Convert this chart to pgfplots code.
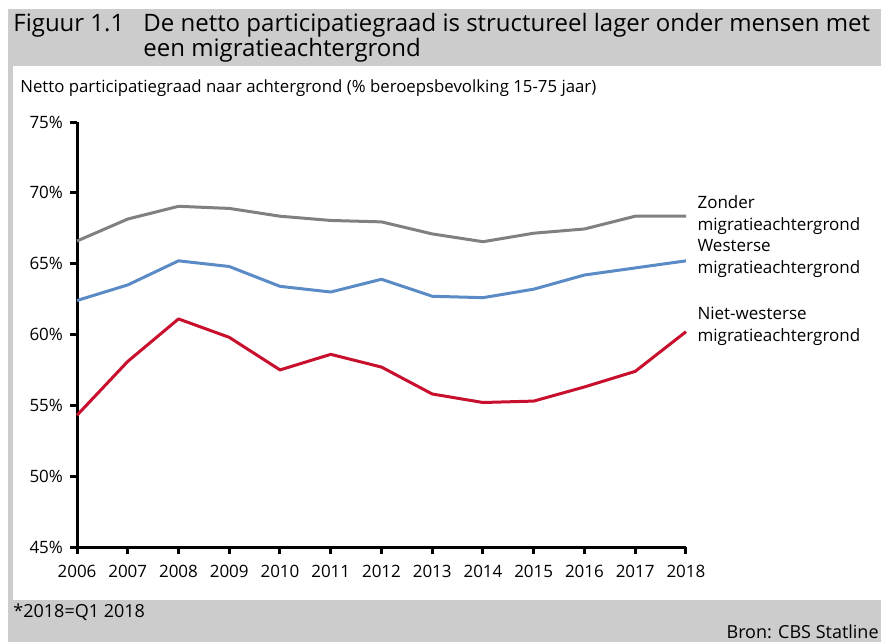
\documentclass[border=0pt]{standalone}
\usepackage{pgfplots}
\pgfplotsset{compat=1.18}
\usepackage{fontspec}
\setmainfont{Open Sans}

\definecolor{zonder}{HTML}{808080}
\definecolor{westers}{HTML}{5B8BC6}
\definecolor{nietwesters}{HTML}{C8102E}
\definecolor{band}{HTML}{CCCCCC}

\begin{document}
\begin{tikzpicture}
% frame and texts, in pixels of the reference (1px = 0.5pt)
\begin{scope}[x=0.5pt,y=-0.5pt]
  \fill[white] (0,0) rectangle (881,642);
  \fill[band] (8,9) rectangle (881,642);
  \fill[white] (13,66) rectangle (881,600);
  \node[anchor=base west, inner sep=0, font=\fontsize{12}{14}\selectfont]
    at (13,32) {Figuur 1.1};
  \node[anchor=base west, inner sep=0, font=\fontsize{12}{14}\selectfont]
    at (143,32) {De netto participatiegraad is structureel lager onder mensen met};
  \node[anchor=base west, inner sep=0, font=\fontsize{12}{14}\selectfont]
    at (143,57) {een migratieachtergrond};
  \node[anchor=base west, inner sep=0, font=\fontsize{8.4}{10}\selectfont]
    at (20,92) {Netto participatiegraad naar achtergrond (\% beroepsbevolking 15-75 jaar)};
  \node[anchor=base west, inner sep=0, font=\fontsize{9}{10}\selectfont]
    at (13,617) {*2018=Q1 2018};
  \node[anchor=base east, inner sep=0, font=\fontsize{9}{10}\selectfont]
    at (879,638) {Bron: CBS Statline};
\end{scope}

\begin{axis}[
  at={(38.5pt,-273.5pt)}, anchor=south west,
  scale only axis, width=304.5pt, height=212.5pt,
  xmin=2006, xmax=2018, ymin=45, ymax=75,
  enlargelimits=false,
  xtick={2006,2007,...,2018},
  ytick={45,50,...,75},
  axis lines=left,
  axis line style={-, line width=1.5pt},
  tick style={line width=1.5pt, black},
  tick align=outside,
  major tick length=3.5pt,
  xticklabel style={/pgf/number format/1000 sep={}, yshift=-2pt},
  yticklabel={\pgfmathprintnumber{\tick}\%},
  /pgf/number format/assume math mode=true,
  tick label style={font=\fontsize{8.5}{10}\selectfont},
  clip=false,
  every axis plot/.append style={line width=1.5pt, line join=round, mark=none},
]
\addplot[zonder] coordinates {
  (2006,66.6)(2007,68.15)(2008,69.05)(2009,68.9)(2010,68.35)(2011,68.05)
  (2012,67.95)(2013,67.1)(2014,66.55)(2015,67.15)(2016,67.45)(2017,68.35)
  (2018,68.35)};
\addplot[westers] coordinates {
  (2006,62.4)(2007,63.5)(2008,65.2)(2009,64.8)(2010,63.4)(2011,63.0)
  (2012,63.9)(2013,62.7)(2014,62.6)(2015,63.2)(2016,64.2)(2017,64.7)
  (2018,65.2)};
\addplot[nietwesters] coordinates {
  (2006,54.3)(2007,58.1)(2008,61.1)(2009,59.8)(2010,57.5)(2011,58.6)
  (2012,57.7)(2013,55.8)(2014,55.2)(2015,55.3)(2016,56.3)(2017,57.4)
  (2018,60.2)};

\node[anchor=west, align=left, inner sep=0, font=\fontsize{8.5}{11}\selectfont]
  at (axis cs:2018.22,68.45) {Zonder\\migratieachtergrond};
\node[anchor=west, align=left, inner sep=0, font=\fontsize{8.5}{11}\selectfont]
  at (axis cs:2018.22,65.35) {Westerse\\migratieachtergrond};
\node[anchor=west, align=left, inner sep=0, font=\fontsize{8.5}{11}\selectfont]
  at (axis cs:2018.22,60.6) {Niet-westerse\\migratieachtergrond};
\end{axis}
\end{tikzpicture}
\end{document}
